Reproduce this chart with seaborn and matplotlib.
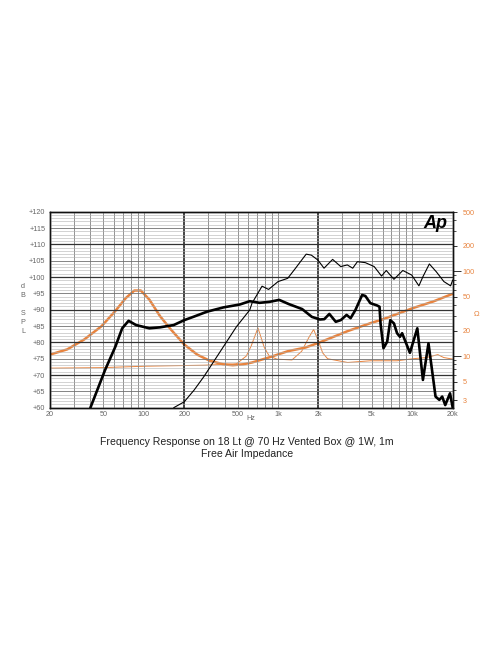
import numpy as np
import pandas as pd
import matplotlib
matplotlib.use("Agg")
import matplotlib.pyplot as plt
import seaborn as sns
from matplotlib.ticker import FixedLocator, NullFormatter

# SPL, 18 Lt vented box (thick black), dB
box_freq = [40, 51.4, 61.4, 69, 77, 87.5, 110, 132, 167, 200, 237, 296, 392, 520, 615, 728, 862,
            1020, 1206, 1510, 1786, 2050, 2210, 2410, 2690, 2930, 3240, 3470, 3770, 4230, 4470,
            4870, 5460, 5700, 5800, 6100, 6500, 6860, 7300, 7700, 8100, 8400, 9000, 9600, 10900,
            12000, 13200, 14900, 15900, 16700, 17600, 19100, 20000]
box_spl = [60, 71.5, 78.7, 84.3, 86.6, 85.3, 84.3, 84.6, 85.3, 86.8, 87.9, 89.4, 90.7, 91.6, 92.6,
           92.1, 92.4, 93.0, 91.7, 90.2, 87.8, 87.0, 87.1, 88.7, 86.3, 86.8, 88.4, 87.4, 89.9,
           94.5, 94.2, 92.0, 91.3, 90.9, 85.8, 78.2, 80.2, 86.8, 85.8, 82.8, 81.7, 82.8, 79.7,
           76.8, 84.3, 68.5, 79.7, 63.4, 62.4, 63.4, 60.8, 64.4, 60.0]

# SPL, second trace (thin black), dB
hf_freq = [167, 200, 237, 280, 350, 490, 615, 640, 760, 850, 1000, 1180, 1350, 1500, 1620, 1770,
           1980, 2200, 2550, 2930, 3280, 3600, 3900, 4470, 5200, 5900, 6400, 7300, 8500, 9900,
           11200, 12000, 13400, 15100, 17200, 19300, 20000]
hf_spl = [60, 61.8, 65.4, 69.5, 75.6, 84.8, 89.9, 92.0, 97.2, 96.2, 98.6, 99.6, 102.7, 105.2,
          107.0, 106.7, 105.2, 102.7, 105.4, 103.2, 103.7, 102.7, 104.7, 104.4, 103.2, 100.3,
          102.0, 99.3, 102.0, 100.6, 97.3, 100.1, 104.0, 101.6, 98.6, 97.3, 99.1]

# impedance (thick orange), ohm
imp_freq = [20, 26.9, 36, 48.4, 61, 73.5, 85, 95, 110, 132, 159, 200, 250, 310, 390, 460, 550,
            640, 850, 1180, 1600, 2000, 3300, 4900, 5900, 10100, 14300, 20000]
imp_ohm = [10.4, 12.0, 15.7, 22.5, 33.7, 48.4, 59.3, 59.3, 46.3, 29.6, 20.6, 13.7, 10.4, 8.8, 8.0,
           7.8, 8.0, 8.4, 9.6, 11.4, 12.6, 14.3, 19.7, 24.5, 26.8, 36.8, 44.0, 54.3]

# impedance (thin orange), ohm
imp2_freq = [20, 48, 105, 280, 490, 580, 630, 708, 790, 860, 980, 1270, 1500, 1690, 1840, 2000,
             2150, 2340, 3300, 4870, 7700, 10100, 12700, 15500, 16700, 17200, 20000]
imp2_ohm = [7.2, 7.3, 7.6, 7.8, 8.1, 10.0, 13.1, 21.5, 12.6, 10.0, 9.2, 9.0, 11.4, 16.4, 20.6,
            15.0, 10.9, 9.3, 8.4, 8.8, 8.8, 9.3, 9.6, 10.4, 9.8, 9.6, 9.2]

x_ticks = [20, 50, 100, 200, 500, 1000, 2000, 5000, 10000, 20000]
x_labels = ["20", "50", "100", "200", "500", "1k", "2k", "5k", "10k", "20k"]
spl_ticks = list(range(60, 121, 5))
ohm_ticks = [3, 5, 10, 20, 50, 100, 200, 500]
ohm_minor = [4, 6, 7, 8, 9, 30, 40, 60, 70, 80, 90, 300, 400]

orange = "#e8843f"
label_grey = "#666666"
small = 5.2

sns.set_style("white")
plt.rcParams["font.family"] = ["Liberation Sans", "DejaVu Sans"]

box = pd.DataFrame({"Hz": box_freq, "dB": box_spl})
hf = pd.DataFrame({"Hz": hf_freq, "dB": hf_spl})
imp = pd.DataFrame({"Hz": imp_freq, "ohm": imp_ohm})
imp2 = pd.DataFrame({"Hz": imp2_freq, "ohm": imp2_ohm})

fig = plt.figure(figsize=(4.96, 6.64), dpi=100)
ax = fig.add_axes([0.1008, 0.386, 0.8119, 0.2952])
ax.set_xscale("log")
ax.set_xlim(20, 20000)
ax.set_ylim(60, 120)

# chart paper grid
for dec in [10, 100, 1000, 10000]:
    for m in range(1, 10):
        f = dec * m
        if f <= 20 or f >= 20000:
            continue
        if f in (200, 2000):
            ax.axvline(f, color="#111111", lw=1.1, zorder=1)
        else:
            ax.axvline(f, color="#808080", lw=0.6, zorder=1)
for v in range(61, 120):
    if v % 10 == 0:
        ax.axhline(v, color="#333333", lw=0.9, zorder=1)
    elif v % 5 == 0:
        ax.axhline(v, color="#707070", lw=0.6, zorder=1)
    else:
        ax.axhline(v, color="#b0b0b0", lw=0.4, zorder=1)

ax2 = ax.twinx()
ax2.set_yscale("log")
ax2.set_ylim(2.46, 505)

sns.lineplot(data=imp2, x="Hz", y="ohm", ax=ax2, color=orange, lw=0.7, sort=False)
sns.lineplot(data=imp, x="Hz", y="ohm", ax=ax2, color=orange, lw=1.8, sort=False)
sns.lineplot(data=hf, x="Hz", y="dB", ax=ax, color="black", lw=0.8, sort=False, zorder=3)
sns.lineplot(data=box, x="Hz", y="dB", ax=ax, color="black", lw=1.9, sort=False, zorder=4)
# keep black traces above the impedance axis
ax.set_zorder(ax2.get_zorder() + 1)
ax.patch.set_visible(False)

ax.set_xticks(x_ticks)
ax.set_xticklabels(x_labels)
ax.xaxis.set_minor_locator(FixedLocator([]))
ax.set_yticks(spl_ticks)
ax.set_yticklabels(["+%d" % t for t in spl_ticks])
ax.tick_params(axis="x", length=0, pad=2.5, labelsize=small, labelcolor=label_grey)
ax.tick_params(axis="y", length=0, pad=3.5, labelsize=small, labelcolor=label_grey)
ax.set_xlabel("")
ax.set_ylabel("")

ax2.yaxis.set_major_locator(FixedLocator(ohm_ticks))
ax2.set_yticklabels([str(t) for t in ohm_ticks])
ax2.yaxis.set_minor_locator(FixedLocator(ohm_minor))
ax2.yaxis.set_minor_formatter(NullFormatter())
ax2.tick_params(axis="y", which="major", length=3, width=0.7, color="#333333", pad=4,
                labelsize=small, labelcolor=orange)
ax2.tick_params(axis="y", which="minor", length=2.5, width=0.6, color="#333333")
for t, val in zip(ax2.yaxis.get_major_ticks(), ohm_ticks):
    if val in (10, 100):
        t.tick2line.set_markersize(6)
ax2.set_ylabel("")

for a in (ax, ax2):
    for s in a.spines.values():
        s.set_visible(True)
        s.set_color("#111111")
        s.set_linewidth(1.0)

ax.text(0.988, 0.985, "Ap", transform=ax.transAxes, ha="right", va="top", fontsize=13,
        fontweight="bold", fontstyle="italic", color="black", zorder=6)

for i, ch in enumerate(["d", "B", "", "S", "P", "L"]):
    fig.text(23 / 496, 1 - (286 + i * 9.1) / 664, ch, ha="center", va="center",
             fontsize=small, color=label_grey)
fig.text(477 / 496, 1 - 315 / 664, "Ω", ha="center", va="center", fontsize=5.5, color=orange)
fig.text(251 / 496, 1 - 419 / 664, "Hz", ha="center", va="center", fontsize=small,
         color=label_grey)

fig.text(0.498, 1 - 441.7 / 664, "Frequency Response on 18 Lt @ 70 Hz Vented Box @ 1W, 1m",
         ha="center", va="center", fontsize=7.6, color="#222222")
fig.text(0.498, 1 - 454 / 664, "Free Air Impedance", ha="center", va="center",
         fontsize=7.6, color="#222222")

fig.savefig("out.png", dpi=100)
